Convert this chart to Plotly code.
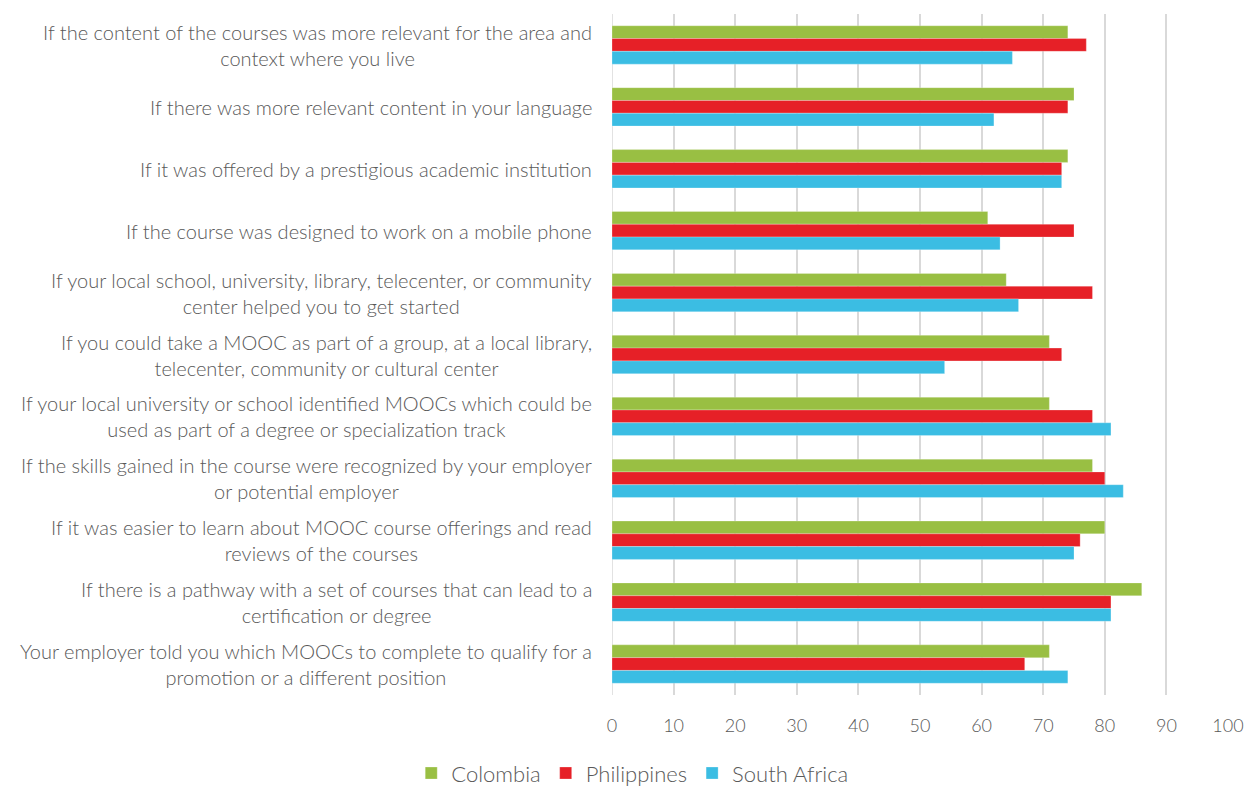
import plotly.graph_objects as go

categories = [
    "If the content of the courses was more relevant for the area and<br>context where you live",
    "If there was more relevant content in your language",
    "If it was offered by a prestigious academic institution",
    "If the course was designed to work on a mobile phone",
    "If your local school, university, library, telecenter, or community<br>center helped you to get started",
    "If you could take a MOOC as part of a group, at a local library,<br>telecenter, community or cultural center",
    "If your local university or school identified MOOCs which could be<br>used as part of a degree or specialization track",
    "If the skills gained in the course were recognized by your employer<br>or potential employer",
    "If it was easier to learn about MOOC course offerings and read<br>reviews of the courses",
    "If there is a pathway with a set of courses that can lead to a<br>certification or degree",
    "Your employer told you which MOOCs to complete to qualify for a<br>promotion or a different position",
]
colombia = [74, 75, 74, 61, 64, 71, 71, 78, 80, 86, 71]
philippines = [77, 74, 73, 75, 78, 73, 78, 80, 76, 81, 67]
south_africa = [65, 62, 73, 63, 66, 54, 81, 83, 75, 81, 74]
x_ticks = [0, 10, 20, 30, 40, 50, 60, 70, 80, 90, 100]

series = [
    ("Colombia", colombia, "#99bf43"),
    ("Philippines", philippines, "#e62027"),
    ("South Africa", south_africa, "#3bbde3"),
]

ids = list(range(len(categories)))
fig = go.Figure()
for name, vals, col in series:
    fig.add_trace(go.Bar(
        y=ids, x=vals, name=name, orientation="h",
        marker=dict(color=col, line=dict(color="rgba(255,255,255,0.5)", width=0.5)),
    ))

for i, c in enumerate(categories):
    fig.add_annotation(
        x=0, xref="paper", y=i, yref="y", text=c, showarrow=False,
        xanchor="right", yanchor="middle", align="center", xshift=-18,
        font=dict(family="Lato", size=20, color="#595959", weight=300),
    )

fig.update_layout(
    width=1247, height=789,
    paper_bgcolor="white", plot_bgcolor="white",
    barmode="group", bargap=0.38, bargroupgap=0,
    margin=dict(l=612, r=19, t=14, b=94),
    font=dict(family="Lato", color="#595959"),
    legend=dict(
        orientation="h", xref="container", yref="container",
        x=0.507, xanchor="center", y=0.02, yanchor="middle",
        font=dict(family="Lato", size=22, color="#595959", weight=300),
        traceorder="normal", itemwidth=30,
    ),
    showlegend=True,
)
fig.update_xaxes(
    range=[0, 100], tickvals=x_ticks, ticktext=[str(t) for t in x_ticks],
    showgrid=True, gridcolor="#d9d9d9", gridwidth=1.5,
    zeroline=False, showline=False, automargin=False,
    tickfont=dict(family="Lato", size=18, color="#595959", weight=300),
    ticklabelstandoff=18,
)
fig.update_yaxes(
    range=[len(categories) - 0.5, -0.5], showticklabels=False,
    showgrid=False, zeroline=False, showline=False, automargin=False,
)
fig.add_shape(type="line", xref="x", yref="paper", x0=0, x1=0, y0=0, y1=1,
              line=dict(color="#d9d9d9", width=1.5), layer="below")

fig.write_html(
    "out.html",
    config={"displayModeBar": False},
    post_script="document.body.style.margin='0';document.body.style.overflow='hidden';",
)
